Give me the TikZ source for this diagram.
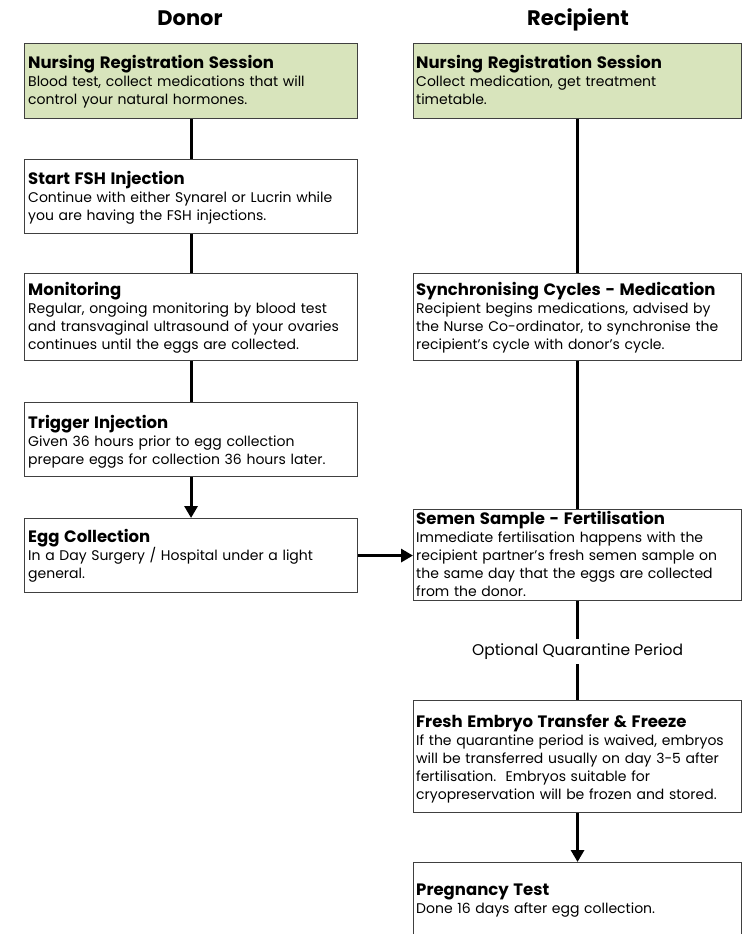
\documentclass[tikz,border=0pt]{standalone}
\usepackage{xcolor}
\usepackage{fontspec}
\setmainfont{Poppins}
\usepackage{tikz}
\usetikzlibrary{arrows.meta}

\definecolor{regGreen}{RGB}{216,228,188}
\definecolor{boxLine}{RGB}{64,64,64}
\newcommand{\boxhead}[1]{{\fontsize{16.5}{18}\selectfont\bfseries #1}}

\begin{document}
\begin{tikzpicture}[x=1pt, y=-1pt,
  stepbox/.style={draw=boxLine, line width=1.1pt, anchor=north west, inner sep=0pt},
  dbox/.style={stepbox, minimum width=333pt},
  rbox/.style={stepbox, minimum width=328pt},
  steptext/.style={anchor=base west, inner sep=0pt, align=left, text width=#1,
    font=\fontsize{14}{18}\selectfont},
  link/.style={line width=3pt},
  arr/.style={line width=3pt, -{Triangle[length=12pt, width=13pt]}}]
\useasboundingbox (0,0) rectangle (743,934);
\clip (0,0) rectangle (743,934);

\node[anchor=base, font=\fontsize{21}{24}\selectfont\bfseries] (donorHead) at (190,26) {Donor};
\node[anchor=base, font=\fontsize{21}{24}\selectfont\bfseries] (recipHead) at (578,26) {Recipient};

\node[dbox, fill=regGreen, minimum height=75pt] (dNurse) at (24,43) {};
\node[steptext=328pt] (dNurseTxt) at ([xshift=4pt, yshift=-25pt]dNurse.north west)
  {\boxhead{Nursing Registration Session}\\Blood test, collect medications that will\\control your natural hormones.};

\node[dbox, minimum height=74pt] (dFsh) at (24,159) {};
\node[steptext=328pt] (dFshTxt) at ([xshift=4pt, yshift=-25pt]dFsh.north west)
  {\boxhead{Start FSH Injection}\\Continue with either Synarel or Lucrin while\\you are having the FSH injections.};

\node[dbox, minimum height=87pt] (dMon) at (24,273) {};
\node[steptext=328pt] (dMonTxt) at ([xshift=4pt, yshift=-22pt]dMon.north west)
  {\boxhead{Monitoring}\\Regular, ongoing monitoring by blood test\\and transvaginal ultrasound of your ovaries\\continues until the eggs are collected.};

\node[dbox, minimum height=74pt] (dTrig) at (24,402) {};
\node[steptext=328pt] (dTrigTxt) at ([xshift=4pt, yshift=-26pt]dTrig.north west)
  {\boxhead{Trigger Injection}\\Given 36 hours prior to egg collection\\prepare eggs for collection 36 hours later.};

\node[dbox, minimum height=74pt] (dEgg) at (24,518) {};
\node[steptext=328pt] (dEggTxt) at ([xshift=4pt, yshift=-24pt]dEgg.north west)
  {\boxhead{Egg Collection}\\In a Day Surgery / Hospital under a light\\general.};

\node[rbox, fill=regGreen, minimum height=75pt] (rNurse) at (413,43) {};
\node[steptext=325pt] (rNurseTxt) at ([xshift=3pt, yshift=-25pt]rNurse.north west)
  {\boxhead{Nursing Registration Session}\\Collect medication, get treatment\\timetable.};

\node[rbox, minimum height=87pt] (rSync) at (413,273) {};
\node[steptext=325pt] (rSyncTxt) at ([xshift=3pt, yshift=-22pt]rSync.north west)
  {\boxhead{Synchronising Cycles - Medication}\\Recipient begins medications, advised by\\the Nurse Co-ordinator, to synchronise the\\recipient's cycle with donor's cycle.};

\node[rbox, minimum height=91pt] (rSemen) at (413,509) {};
\node[steptext=325pt] (rSemenTxt) at ([xshift=3pt, yshift=-15pt]rSemen.north west)
  {\boxhead{Semen Sample - Fertilisation}\\Immediate fertilisation happens with the\\recipient partner's fresh semen sample on\\the same day that the eggs are collected\\from the donor.};

\node[font=\fontsize{15.5}{18}\selectfont, inner sep=0pt, minimum height=25pt] (quar)
  at ([yshift=-50.5pt]rSemen.south) {Optional Quarantine Period};

\node[rbox, minimum height=112pt] (rFresh) at (413,700) {};
\node[steptext=325pt] (rFreshTxt) at ([xshift=3pt, yshift=-27pt]rFresh.north west)
  {\boxhead{Fresh Embryo Transfer \& Freeze}\\If the quarantine period is waived, embryos\\will be transferred usually on day 3-5 after\\fertilisation.\ \ Embryos suitable for\\cryopreservation will be frozen and stored.};

\node[rbox, minimum height=90pt] (rPreg) at (413,862) {};
\node[steptext=325pt] (rPregTxt) at ([xshift=3pt, yshift=-33pt]rPreg.north west)
  {\boxhead{Pregnancy Test}\\Done 16 days after egg collection.};

\draw[link] (dNurse) -- (dFsh);
\draw[link] (dFsh) -- (dMon);
\draw[link] (dMon) -- (dTrig);
\draw[arr] (dTrig) -- (dEgg);
\draw[arr] (dEgg.east) -- (rSemen.west |- dEgg.east);
\draw[link] (rNurse) -- (rSync);
\draw[link] (rSync) -- (rSemen);
\draw[link] (rSemen) -- (quar);
\draw[link] (quar) -- (rFresh);
\draw[arr] (rFresh) -- (rPreg);
\end{tikzpicture}
\end{document}
